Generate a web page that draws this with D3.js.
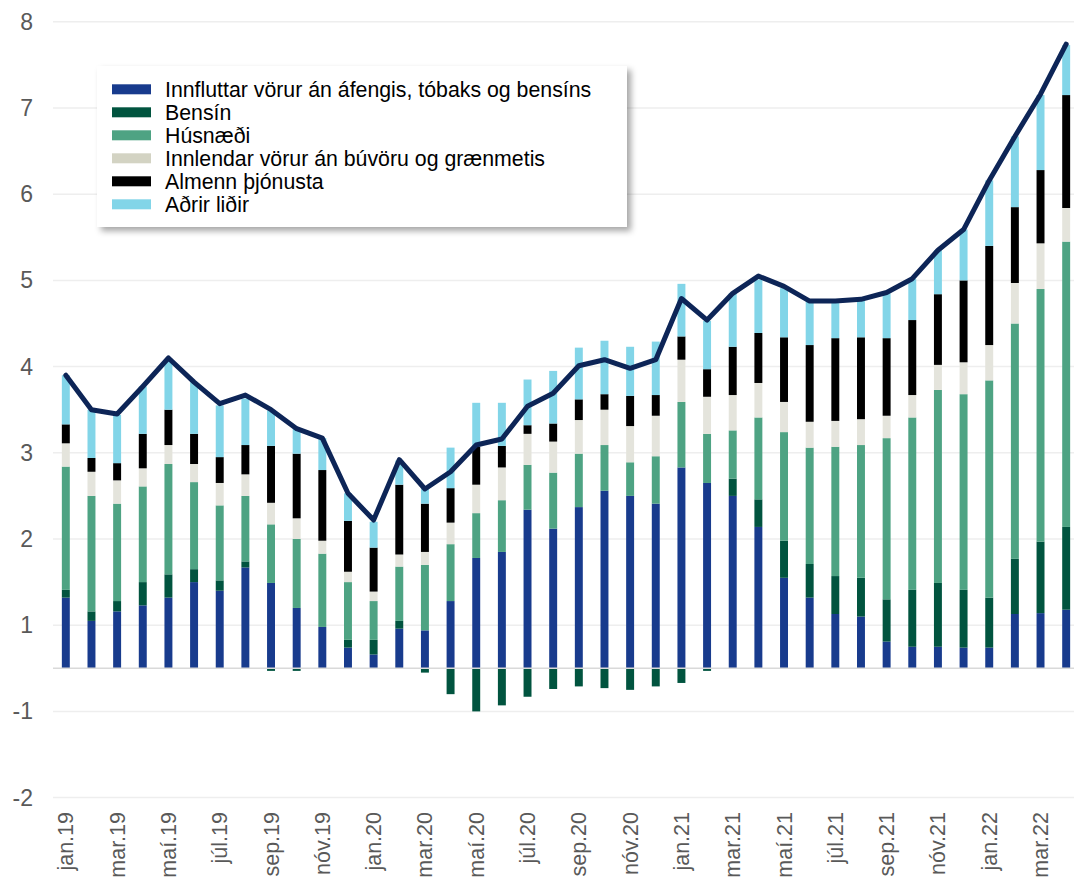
<!DOCTYPE html>
<html lang="is">
<head>
<meta charset="utf-8">
<script src="https://d3js.org/d3.v7.min.js"></script>
<style>
  body { margin: 0; background: #fff; }
  text { font-family: "Liberation Sans", Arial, sans-serif; }
</style>
</head>
<body>
<script>
    // months, jan.19 to apr.22
    var months = ["jan.19","feb.19","mar.19","apr.19","maí.19","jún.19","júl.19","ágú.19","sep.19","okt.19","nóv.19","des.19",
                  "jan.20","feb.20","mar.20","apr.20","maí.20","jún.20","júl.20","ágú.20","sep.20","okt.20","nóv.20","des.20",
                  "jan.21","feb.21","mar.21","apr.21","maí.21","jún.21","júl.21","ágú.21","sep.21","okt.21","nóv.21","des.21",
                  "jan.22","feb.22","mar.22","apr.22"];

    var innfluttar = [0.82,0.55,0.66,0.73,0.82,1.00,0.90,1.17,0.99,0.70,0.48,0.24,
                      0.16,0.46,0.44,0.78,1.28,1.35,1.84,1.62,1.87,2.06,2.00,1.91,
                      2.33,2.15,2.00,1.64,1.05,0.82,0.63,0.60,0.31,0.25,0.25,0.24,
                      0.24,0.63,0.64,0.68];
    var bensin = [0.09,0.11,0.12,0.27,0.27,0.15,0.12,0.07,-0.03,-0.03,0.00,0.09,
                  0.17,0.09,-0.05,-0.30,-0.50,-0.43,-0.33,-0.24,-0.21,-0.23,-0.25,-0.21,
                  -0.17,-0.03,0.20,0.32,0.43,0.39,0.44,0.45,0.49,0.66,0.74,0.67,
                  0.58,0.64,0.83,0.96];
    var husnaedi = [1.43,1.34,1.13,1.11,1.28,1.01,0.87,0.76,0.68,0.80,0.85,0.67,
                    0.45,0.63,0.76,0.66,0.52,0.60,0.52,0.65,0.62,0.53,0.39,0.55,
                    0.76,0.57,0.56,0.95,1.26,1.35,1.50,1.54,1.87,2.00,2.24,2.27,
                    2.52,2.73,2.93,3.31];
    var innlendar = [0.27,0.28,0.27,0.21,0.22,0.21,0.26,0.25,0.25,0.24,0.15,0.12,
                     0.11,0.14,0.15,0.25,0.33,0.38,0.36,0.36,0.39,0.41,0.42,0.47,
                     0.49,0.43,0.41,0.40,0.35,0.30,0.30,0.30,0.26,0.26,0.29,0.37,
                     0.41,0.47,0.53,0.39];
    var almenn = [0.22,0.16,0.20,0.40,0.41,0.35,0.30,0.34,0.66,0.75,0.82,0.59,
                  0.51,0.81,0.56,0.40,0.44,0.25,0.10,0.21,0.24,0.18,0.35,0.24,
                  0.27,0.32,0.56,0.58,0.75,0.89,0.96,0.95,0.90,0.87,0.82,0.95,
                  1.15,0.88,0.85,1.31];
    var adrir = [0.57,0.56,0.56,0.55,0.58,0.60,0.60,0.54,0.41,0.29,0.37,0.32,
                 0.30,0.28,0.20,0.47,0.51,0.50,0.53,0.61,0.60,0.62,0.57,0.62,
                 0.61,0.56,0.62,0.62,0.57,0.51,0.43,0.43,0.52,0.48,0.51,0.59,
                 0.76,0.82,0.87,0.58];
    // total (line)
    var verdbolga = [3.40,3.00,2.95,3.27,3.60,3.32,3.07,3.17,3.00,2.78,2.67,2.03,
                     1.72,2.42,2.08,2.28,2.59,2.66,3.04,3.19,3.51,3.58,3.48,3.58,
                     4.29,4.04,4.35,4.55,4.43,4.26,4.26,4.28,4.36,4.52,4.85,5.09,
                     5.66,6.17,6.66,7.24];

    var seriesNames = ["Innfluttar vörur án áfengis, tóbaks og bensíns", "Bensín", "Húsnæði",
                       "Innlendar vörur án búvöru og grænmetis", "Almenn þjónusta", "Aðrir liðir"];
    var colors = ["#183b8d", "#01543f", "#4ea383", "#e4e4dc", "#000000", "#82d5e8"];

    // axis ticks sit at half units, labels show them rounded
    var yTickValues = [-1.5, -0.5, 0.5, 1.5, 2.5, 3.5, 4.5, 5.5, 6.5, 7.5];
    var yTickLabels = ["-2", "-1", "1", "2", "3", "4", "5", "6", "7", "8"];

    var width = 1074, height = 885;

    var svg = d3.select("body").append("svg")
        .attr("width", width)
        .attr("height", height);

    var x = d3.scaleBand()
        .domain(months)
        .range([53, 1079])
        .paddingInner(0.69)
        .paddingOuter(0.345);

    var y = d3.scaleLinear()
        .domain([-1.5, 7.5])
        .range([797.6, 21.8]);

    // gridlines
    svg.append("g")
        .selectAll("line")
        .data(yTickValues)
        .enter().append("line")
        .attr("x1", 53).attr("x2", width)
        .attr("y1", function (d) { return y(d); })
        .attr("y2", function (d) { return y(d); })
        .attr("stroke", "#eeeeee")
        .attr("stroke-width", 1.5);

    // y labels
    svg.append("g")
        .selectAll("text")
        .data(yTickValues)
        .enter().append("text")
        .attr("x", 33)
        .attr("y", function (d) { return y(d); })
        .attr("dy", "0.35em")
        .attr("text-anchor", "end")
        .attr("fill", "#595959")
        .style("font-size", "23px")
        .text(function (d, i) { return yTickLabels[i]; });

    // stacked bars
    var table = months.map(function (m, i) {
        return { month: m, s0: innfluttar[i], s1: bensin[i], s2: husnaedi[i], s3: innlendar[i], s4: almenn[i], s5: adrir[i] };
    });
    var stack = d3.stack()
        .keys(["s0", "s1", "s2", "s3", "s4", "s5"])
        .offset(d3.stackOffsetDiverging);
    var layers = stack(table);

    svg.append("g")
        .selectAll("g")
        .data(layers)
        .enter().append("g")
        .attr("fill", function (d, i) { return colors[i]; })
        .selectAll("rect")
        .data(function (d) { return d; })
        .enter().append("rect")
        .attr("x", function (d) { return x(d.data.month); })
        .attr("width", x.bandwidth())
        .attr("y", function (d) { return y(Math.max(d[0], d[1])); })
        .attr("height", function (d) { return Math.abs(y(d[0]) - y(d[1])); });

    // zero line
    svg.append("line")
        .attr("x1", 53).attr("x2", width)
        .attr("y1", y(0)).attr("y2", y(0))
        .attr("stroke", "#d9d9d9")
        .attr("stroke-width", 1.5);

    // total line
    var line = d3.line()
        .x(function (d, i) { return x(months[i]) + x.bandwidth() / 2; })
        .y(function (d) { return y(d); });

    svg.append("path")
        .datum(verdbolga)
        .attr("d", line)
        .attr("fill", "none")
        .attr("stroke", "#0d2557")
        .attr("stroke-width", 5)
        .attr("stroke-linejoin", "round")
        .attr("stroke-linecap", "round");

    // x labels, every other month
    svg.append("g")
        .selectAll("text")
        .data(months.filter(function (d, i) { return i % 2 === 0; }))
        .enter().append("text")
        .attr("transform", function (d) {
            return "translate(" + (x(d) + x.bandwidth() / 2) + ",812) rotate(-90)";
        })
        .attr("dy", "0.35em")
        .attr("text-anchor", "end")
        .attr("fill", "#595959")
        .style("font-size", "21.5px")
        .text(function (d) { return d; });

    // legend
    var defs = svg.append("defs");
    var f = defs.append("filter").attr("id", "shadow")
        .attr("x", "-5%").attr("y", "-10%").attr("width", "115%").attr("height", "130%");
    f.append("feDropShadow")
        .attr("dx", 4).attr("dy", 4)
        .attr("stdDeviation", 3)
        .attr("flood-color", "#000")
        .attr("flood-opacity", 0.35);

    var legend = svg.append("g").attr("transform", "translate(97,66)");
    legend.append("rect")
        .attr("width", 530)
        .attr("height", 161)
        .attr("fill", "#fff")
        .attr("filter", "url(#shadow)");

    var item = legend.selectAll(".item")
        .data(seriesNames)
        .enter().append("g")
        .attr("transform", function (d, i) { return "translate(0," + (23.3 + i * 23) + ")"; });
    item.append("rect")
        .attr("x", 15).attr("y", -5)
        .attr("width", 39).attr("height", 10)
        .attr("fill", function (d, i) { return i === 3 ? "#d3d3c3" : colors[i]; });
    item.append("text")
        .attr("x", 68)
        .attr("dy", "0.35em")
        .attr("fill", "#000")
        .style("font-size", "21.3px")
        .text(function (d) { return d; });
</script>
</body>
</html>
